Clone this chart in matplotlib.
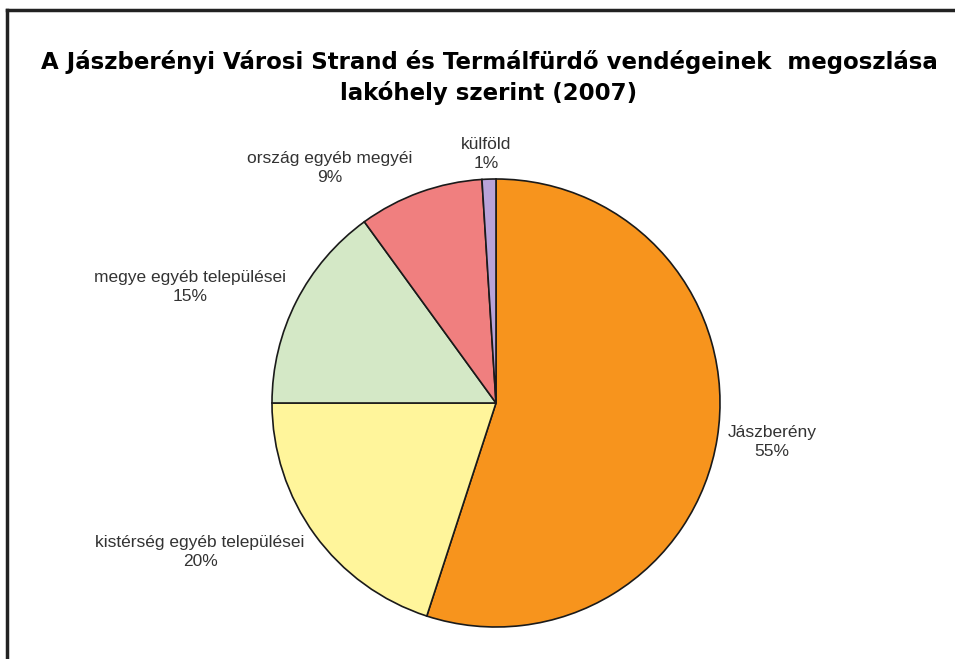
import matplotlib
matplotlib.use("Agg")
import matplotlib.pyplot as plt
from matplotlib.lines import Line2D

# data
categories = ["Jászberény", "kistérség egyéb települései", "megye egyéb települései",
              "ország egyéb megyéi", "külföld"]
shares = [55, 20, 15, 9, 1]
colors = ["#F7941D", "#FFF59B", "#D4E8C6", "#F07F7F", "#B9A3D9"]

# label centres (axes data coords, pie radius = 1)
label_pos = [(1.232, -0.174), (-1.321, -0.665), (-1.366, 0.518), (-0.741, 1.049), (-0.045, 1.112)]

fig = plt.figure(figsize=(9.55, 6.59), dpi=100)

# outer frame (top and left edges visible, the rest is cut off)
fig.add_artist(Line2D([6.5 / 955, 6.5 / 955], [0, 1 - 10 / 659], color="#222222", lw=2.5))
fig.add_artist(Line2D([6.5 / 955, 1], [1 - 10 / 659, 1 - 10 / 659], color="#222222", lw=2.5))

fig.text(489 / 955, 1 - 62 / 659, "A Jászberényi Városi Strand és Termálfürdő vendégeinek  megoszlása",
         ha="center", va="center", fontsize=16.5, fontweight="bold", family="DejaVu Sans")
fig.text(489 / 955, 1 - 93 / 659, "lakóhely szerint (2007)",
         ha="center", va="center", fontsize=16.5, fontweight="bold", family="DejaVu Sans")

cx, cy, r = 496, 403, 224
ax = fig.add_axes([(cx - r) / 955, (659 - cy - r) / 659, 2 * r / 955, 2 * r / 659])
ax.pie(shares, colors=colors, startangle=90, counterclock=False, radius=1,
       wedgeprops=dict(edgecolor="#1a1a1a", linewidth=1.2))
ax.set_xlim(-1, 1)
ax.set_ylim(-1, 1)
ax.set_aspect("equal")
ax.axis("off")

for name, val, (x, y) in zip(categories, shares, label_pos):
    ax.text(x, y, f"{name}\n{val}%", ha="center", va="center", fontsize=12.5,
            family="Liberation Sans", color="#333333", linespacing=1.35, clip_on=False)

fig.savefig("out.png", dpi=100)
